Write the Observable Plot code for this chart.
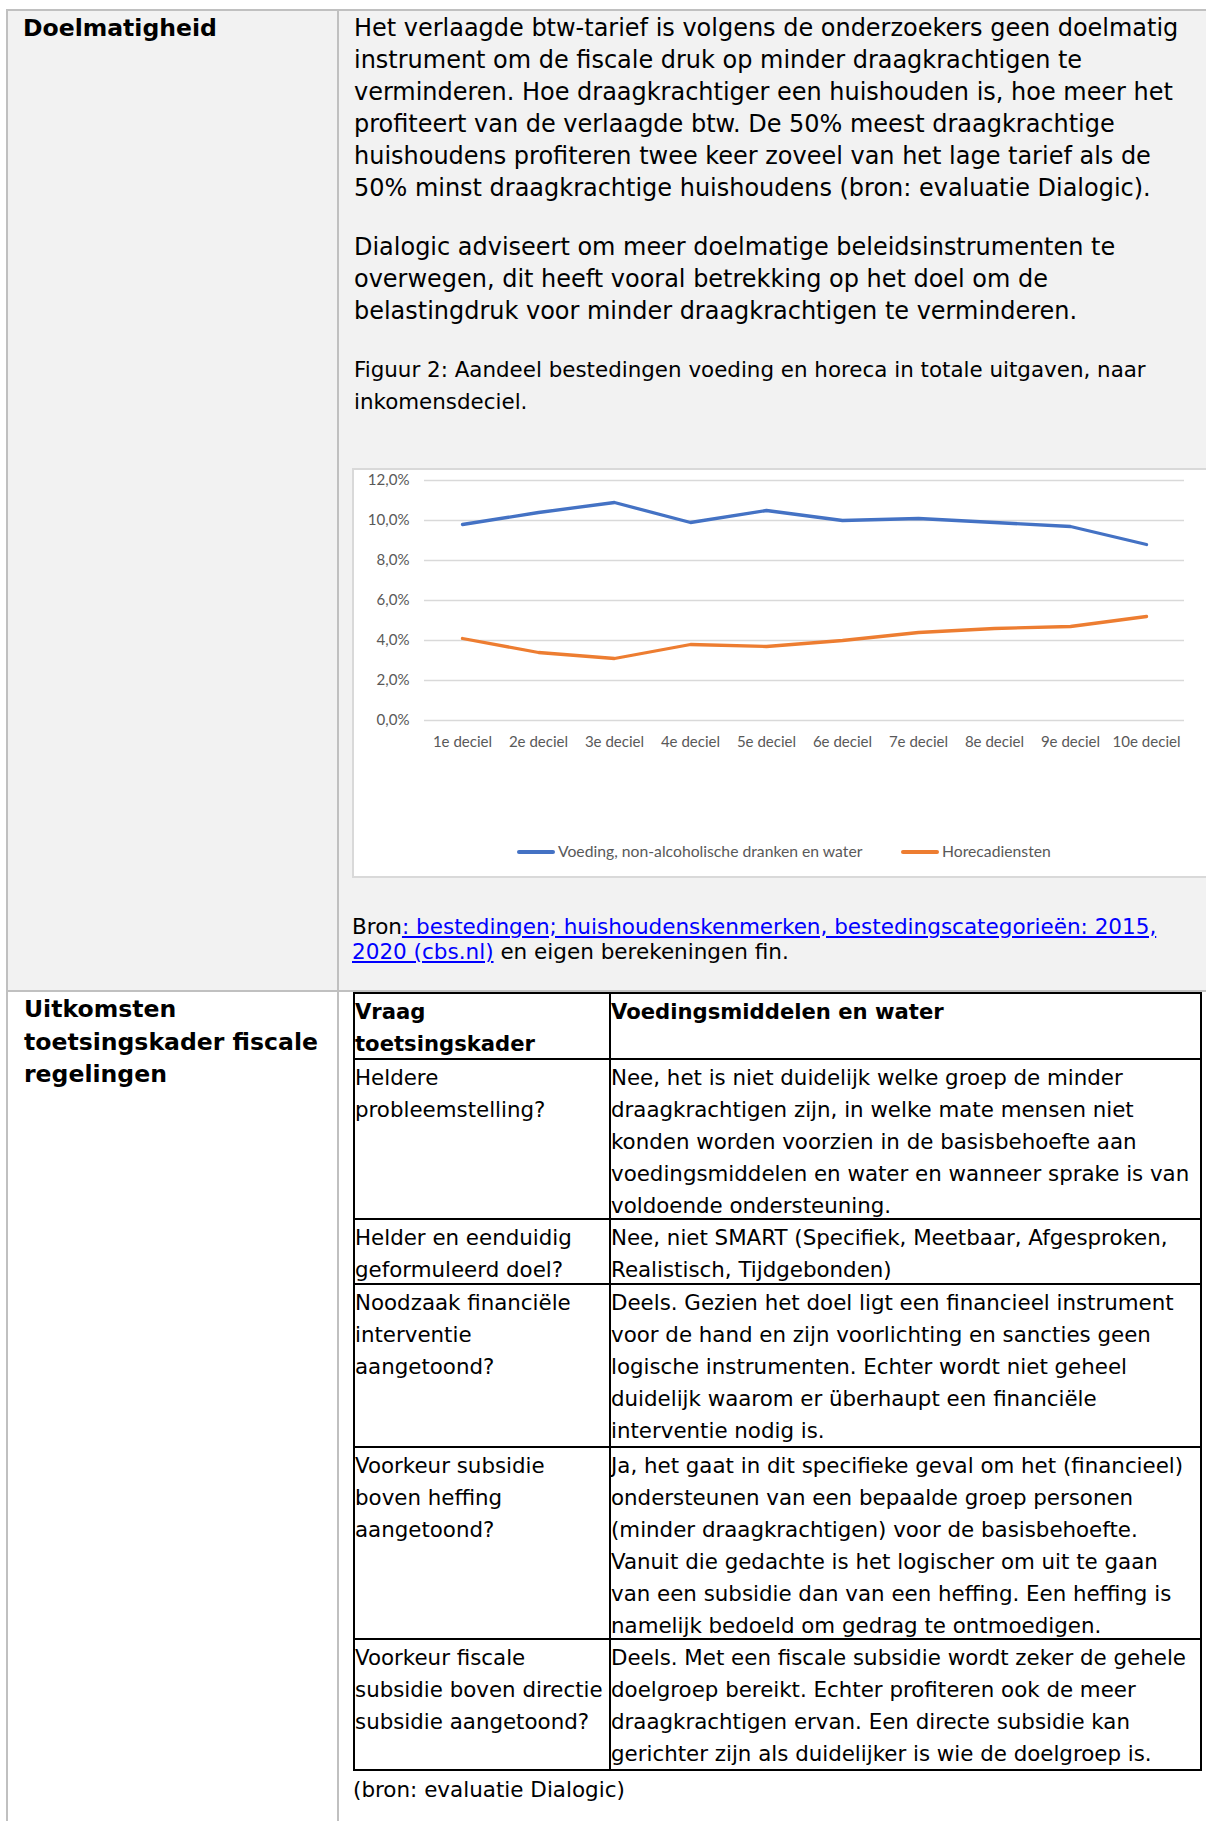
<!DOCTYPE html>
<html><head><meta charset="utf-8">
<script src="https://cdn.jsdelivr.net/npm/d3@7"></script>
<script src="https://cdn.jsdelivr.net/npm/@observablehq/plot@0.6"></script>
<style>
html,body{margin:0;padding:0;background:#fff;}
#page{position:relative;width:1206px;height:1821px;overflow:hidden;background:#fff;font-family:"DejaVu Sans",Verdana,sans-serif;color:#000;}
.abs{position:absolute;}
.txt{position:absolute;white-space:nowrap;}
a{color:#0000ff;text-decoration:underline;}
</style></head><body><div id="page"></div>
<script>
// ---------- DATA ----------
const deciles = ["1e deciel","2e deciel","3e deciel","4e deciel","5e deciel","6e deciel","7e deciel","8e deciel","9e deciel","10e deciel"];
const voeding = [9.8, 10.4, 10.9, 9.9, 10.5, 10.0, 10.1, 9.9, 9.7, 8.8];
const horeca  = [4.1, 3.4, 3.1, 3.8, 3.7, 4.0, 4.4, 4.6, 4.7, 5.2];
const seriesNames = ["Voeding, non-alcoholische dranken en water", "Horecadiensten"];
const seriesColors = ["#4472c4", "#ed7d31"];
const yTicks = [0, 2, 4, 6, 8, 10, 12];

const label1 = ["Doelmatigheid"];
const para1 = [
  "Het verlaagde btw-tarief is volgens de onderzoekers geen doelmatig",
  "instrument om de fiscale druk op minder draagkrachtigen te",
  "verminderen. Hoe draagkrachtiger een huishouden is, hoe meer het",
  "profiteert van de verlaagde btw. De 50% meest draagkrachtige",
  "huishoudens profiteren twee keer zoveel van het lage tarief als de",
  "50% minst draagkrachtige huishoudens (bron: evaluatie Dialogic)."
];
const para2 = [
  "Dialogic adviseert om meer doelmatige beleidsinstrumenten te",
  "overwegen, dit heeft vooral betrekking op het doel om de",
  "belastingdruk voor minder draagkrachtigen te verminderen."
];
const caption = [
  "Figuur 2: Aandeel bestedingen voeding en horeca in totale uitgaven, naar",
  "inkomensdeciel."
];
const bronParts = [
  [["Bron", false], [": bestedingen; huishoudenskenmerken, bestedingscategorieën: 2015,", true]],
  [["2020 (cbs.nl)", true], [" en eigen berekeningen fin.", false]]
];
const label2 = ["Uitkomsten", "toetsingskader fiscale", "regelingen"];
const tableHeader = [["Vraag", "toetsingskader"], ["Voedingsmiddelen en water"]];
const tableRows = [
  [["Heldere", "probleemstelling?"],
   ["Nee, het is niet duidelijk welke groep de minder",
    "draagkrachtigen zijn, in welke mate mensen niet",
    "konden worden voorzien in de basisbehoefte aan",
    "voedingsmiddelen en water en wanneer sprake is van",
    "voldoende ondersteuning."]],
  [["Helder en eenduidig", "geformuleerd doel?"],
   ["Nee, niet SMART (Specifiek, Meetbaar, Afgesproken,",
    "Realistisch, Tijdgebonden)"]],
  [["Noodzaak financiële", "interventie", "aangetoond?"],
   ["Deels. Gezien het doel ligt een financieel instrument",
    "voor de hand en zijn voorlichting en sancties geen",
    "logische instrumenten. Echter wordt niet geheel",
    "duidelijk waarom er überhaupt een financiële",
    "interventie nodig is."]],
  [["Voorkeur subsidie", "boven heffing", "aangetoond?"],
   ["Ja, het gaat in dit specifieke geval om het (financieel)",
    "ondersteunen van een bepaalde groep personen",
    "(minder draagkrachtigen) voor de basisbehoefte.",
    "Vanuit die gedachte is het logischer om uit te gaan",
    "van een subsidie dan van een heffing. Een heffing is",
    "namelijk bedoeld om gedrag te ontmoedigen."]],
  [["Voorkeur fiscale", "subsidie boven directie", "subsidie aangetoond?"],
   ["Deels. Met een fiscale subsidie wordt zeker de gehele",
    "doelgroep bereikt. Echter profiteren ook de meer",
    "draagkrachtigen ervan. Een directe subsidie kan",
    "gerichter zijn als duidelijker is wie de doelgroep is."]]
];
const tableSource = ["(bron: evaluatie Dialogic)"];

// ---------- HELPERS ----------
const DOC = '"DejaVu Sans", Verdana, sans-serif';
const CHART = 'Lato, "Open Sans", sans-serif';
const cv = document.createElement("canvas").getContext("2d");
function fit(weight, family, text, target) {
  cv.font = `${weight} 100px ${family}`;
  return 100 * target / cv.measureText(text).width;
}
const page = document.getElementById("page");
function box(l, t, w, h, style) {
  const d = document.createElement("div");
  d.className = "abs";
  Object.assign(d.style, {left: l + "px", top: t + "px", width: w + "px", height: h + "px"}, style);
  page.appendChild(d);
  return d;
}
function textBlock(l, t, lines, size, lh, weight = "normal", family = DOC, color = "#000") {
  const d = document.createElement("div");
  d.className = "txt";
  Object.assign(d.style, {left: l + "px", top: t + "px", fontSize: size + "px", lineHeight: lh + "px",
    fontWeight: weight, fontFamily: family, color});
  lines.forEach(ln => { const s = document.createElement("div"); s.textContent = ln; d.appendChild(s); });
  page.appendChild(d);
  return d;
}

// ---------- FONT SIZES (fitted to reference line widths) ----------
const fsBody = fit("normal", DOC, para1[0], 825);
const fsCap = fit("normal", DOC, caption[0], 792);
const fsBron = fit("normal", DOC, bronParts[0].map(p => p[0]).join(""), 805);
const fsBold1 = fit("bold", DOC, label1[0], 194);
const fsBold2 = fit("bold", DOC, label2[1], 294);
const fsTable = fit("normal", DOC, tableRows[1][1][0], 557);
const fsTableHead = fit("bold", DOC, tableHeader[1][0], 333);
const fsSrc = fit("normal", DOC, tableSource[0], 272);
const fsTick = fit("normal", CHART, "10e deciel", 68);
const fsLegend = fit("normal", CHART, seriesNames[0], 305);

// ---------- OUTER TABLE ----------
const GRAY = "#c0c0c0";
box(8, 11, 1198, 980, {background: "#f2f2f2"});
box(6, 9, 1200, 2, {background: GRAY});
box(6, 9, 2, 1812, {background: GRAY});
box(337, 9, 2, 1812, {background: GRAY});
box(6, 990, 1200, 2, {background: GRAY});

// Row 1
textBlock(23, 12, label1, fsBold1, 32, "bold");
textBlock(354, 12, para1, fsBody, 32);
textBlock(354, 231, para2, fsBody, 32);
textBlock(354, 354, caption, fsCap, 32);

// Chart box
box(352, 468, 900, 410, {background: "#fff", border: "2px solid #d9d9d9", boxSizing: "border-box"});

const rows = deciles.flatMap((d, i) => [
  {decile: d, value: voeding[i], series: seriesNames[0]},
  {decile: d, value: horeca[i], series: seriesNames[1]}
]);
const chart = Plot.plot({
  width: 852, height: 406,
  marginLeft: 70, marginRight: 22, marginTop: 9, marginBottom: 157,
  style: {fontFamily: CHART, fontSize: fsTick.toFixed(2) + "px", color: "#595959", background: "transparent", overflow: "visible"},
  x: {type: "point", domain: deciles, padding: 0.5, label: null, tickSize: 0, tickPadding: 16},
  y: {domain: [0, 12], ticks: yTicks, tickFormat: d => d.toFixed(1).replace(".", ",") + "%", label: null, tickSize: 0, tickPadding: 15},
  color: {domain: seriesNames, range: seriesColors},
  marks: [
    Plot.ruleY(yTicks, {stroke: "#d9d9d9", strokeWidth: 1.5}),
    Plot.line(rows, {x: "decile", y: "value", z: "series", stroke: "series", strokeWidth: 3.3, strokeLinejoin: "round", strokeLinecap: "round"})
  ]
});
const holder = box(354, 471, 852, 406, {});
holder.appendChild(chart);

// Legend (HTML)
const legendX = [[517, 558], [901, 942]];
seriesNames.forEach((name, i) => {
  box(legendX[i][0], 850, 38, 4, {background: seriesColors[i], borderRadius: "2px"});
  textBlock(legendX[i][1], 840, [name], fsLegend, 22, "normal", CHART, "#595959");
});

// Bron
const bron = document.createElement("div");
bron.className = "txt";
Object.assign(bron.style, {left: "352px", top: "914px", fontSize: fsBron + "px", lineHeight: "25px"});
bronParts.forEach(line => {
  const l = document.createElement("div");
  line.forEach(([txt, isLink]) => {
    const s = document.createElement(isLink ? "a" : "span");
    s.textContent = txt;
    l.appendChild(s);
  });
  bron.appendChild(l);
});
page.appendChild(bron);

// Row 2
textBlock(24, 993, label2, fsBold2, 32.5, "bold");

// Inner table
const rowTops = [993, 1059, 1219, 1284, 1447, 1639, 1770];
const colX = [353, 609, 1200];
rowTops.forEach(y => box(colX[0], y - 1, colX[2] - colX[0] + 2, 2, {background: "#000"}));
colX.forEach(x => box(x, rowTops[0] - 1, 2, rowTops[rowTops.length - 1] - rowTops[0] + 2, {background: "#000"}));
textBlock(colX[0] + 2, rowTops[0] + 3, tableHeader[0], fsTableHead, 32, "bold");
textBlock(colX[1] + 2, rowTops[0] + 3, tableHeader[1], fsTableHead, 32, "bold");
tableRows.forEach((r, i) => {
  textBlock(colX[0] + 2, rowTops[i + 1] + 3, r[0], fsTable, 32);
  textBlock(colX[1] + 2, rowTops[i + 1] + 3, r[1], fsTable, 32);
});
textBlock(353, 1774, tableSource, fsSrc, 32);
</script></body></html>
